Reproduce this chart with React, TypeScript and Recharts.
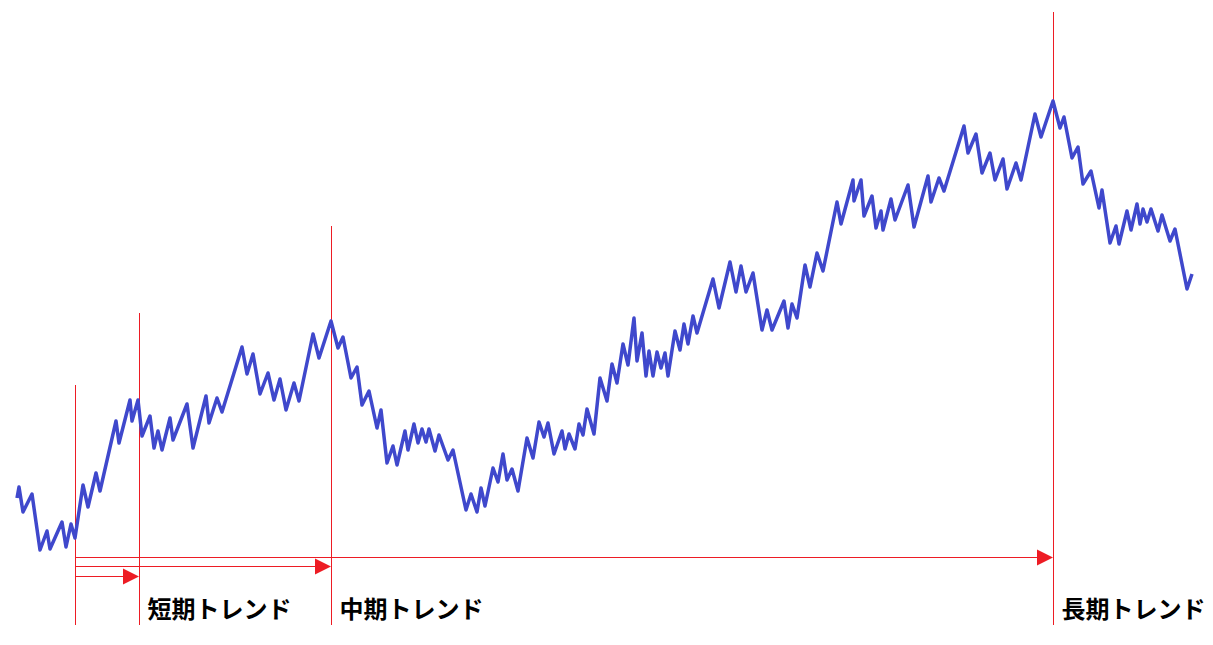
import { LineChart, Line, XAxis, YAxis, ReferenceLine } from "recharts";

const times = [
  17, 19, 23, 32, 40, 47, 50, 62, 66, 71, 75, 83, 88, 96, 100, 116, 119, 130, 132, 138,
  142, 150, 154, 158, 162, 170, 173, 187, 193, 206, 209, 217, 222, 242, 247, 253, 260, 268, 274, 280,
  286, 294, 299, 313, 319, 331, 338, 343, 351, 357, 362, 369, 377, 381, 387, 393, 397, 405, 408, 414,
  418, 422, 426, 429, 435, 439, 448, 453, 466, 471, 477, 481, 485, 493, 498, 503, 507, 512, 518, 527,
  533, 539, 544, 548, 554, 562, 565, 569, 575, 579, 583, 587, 594, 600, 607, 612, 617, 623, 628, 634,
  637, 642, 646, 649, 653, 657, 661, 665, 668, 675, 680, 684, 688, 693, 697, 713, 719, 730, 736, 741,
  746, 753, 762, 767, 772, 784, 788, 792, 797, 805, 810, 817, 823, 837, 841, 853, 854, 861, 864, 872,
  876, 881, 883, 891, 895, 908, 914, 928, 931, 939, 944, 964, 968, 976, 982, 990, 995, 1003, 1007, 1016,
  1021, 1035, 1041, 1053, 1060, 1064, 1072, 1078, 1083, 1091, 1099, 1102, 1110, 1116, 1119, 1127, 1131, 1137, 1140, 1143,
  1147, 1151, 1158, 1162, 1170, 1175, 1187, 1192,
];
const levels = [
  498, 487, 512, 494, 550, 531, 549, 522, 547, 524, 538, 485, 507, 473, 491, 421, 443, 400, 421, 400,
  436, 416, 448, 431, 450, 418, 440, 404, 448, 396, 423, 398, 412, 347, 374, 354, 394, 373, 400, 379,
  410, 383, 401, 334, 358, 321, 348, 337, 378, 367, 405, 391, 428, 410, 463, 446, 465, 431, 450, 424,
  443, 429, 442, 429, 451, 435, 460, 450, 510, 494, 512, 488, 506, 468, 482, 454, 480, 469, 491, 438,
  458, 422, 437, 423, 454, 431, 449, 434, 449, 424, 435, 409, 434, 378, 401, 364, 383, 344, 365, 318,
  361, 333, 376, 351, 376, 352, 368, 353, 376, 331, 350, 324, 344, 316, 333, 279, 308, 262, 292, 266,
  292, 273, 330, 310, 330, 301, 328, 304, 318, 265, 287, 253, 271, 202, 224, 180, 201, 180, 216, 196,
  228, 211, 230, 199, 220, 185, 227, 176, 202, 178, 191, 126, 153, 134, 173, 153, 180, 159, 189, 163,
  180, 114, 137, 101, 128, 117, 158, 147, 184, 171, 208, 190, 243, 226, 244, 211, 230, 204, 224, 209,
  222, 209, 231, 215, 241, 229, 289, 274,
];

const trendNames = ["短期トレンド", "中期トレンド", "長期トレンド"];
const trendStart = 75;
const trendEnds = [139, 331, 1053];
const trendTops = [313, 226, 12];
const startTop = 385;

const data = times.map((t, i) => ({ t, v: levels[i] }));

const RED = "#ed1c24";
const BLUE = "#3f48cc";
const BOTTOM = 625;
const arrowRows = [576, 566, 557];

const Arrow = (props: any) => {
  const { x1, y1, x2, y2 } = props;
  const y = Math.round(y2) + 0.5;
  return (
    <g>
      <line
        x1={Math.round(x1)}
        y1={y}
        x2={x2 - 14}
        y2={y}
        stroke={RED}
        strokeWidth={1}
        shapeRendering="crispEdges"
      />
      <polygon points={`${x2},${y} ${x2 - 16},${y - 8} ${x2 - 16},${y + 8}`} fill={RED} />
    </g>
  );
};

const makeMarker = (name?: string) => (props: any) => {
  const { x1, y1, y2 } = props;
  const x = Math.round(x1) + 0.5;
  return (
    <g>
      <line x1={x} y1={y1} x2={x} y2={y2} stroke={RED} strokeWidth={1} shapeRendering="crispEdges" />
      {name && (
        <text
          x={x + 8}
          y={BOTTOM - 7}
          fontSize={24}
          fontWeight="bold"
          fontFamily="'Noto Sans CJK JP', sans-serif"
          fill="#000"
        >
          {name}
        </text>
      )}
    </g>
  );
};

export default function App() {
  return (
    <div style={{ position: "absolute", left: 0, top: 0, background: "#fff" }}>
      <LineChart width={1213} height={645} data={data} margin={{ top: 0, right: 0, bottom: 0, left: 0 }}>
        <XAxis dataKey="t" type="number" domain={[0, 1213]} hide />
        <YAxis type="number" domain={[0, 645]} reversed hide />
        <ReferenceLine
          segment={[{ x: trendStart, y: startTop }, { x: trendStart, y: BOTTOM }]}
          shape={makeMarker()}
        />
        {trendEnds.map((end, i) => (
          <ReferenceLine
            key={"v" + i}
            segment={[{ x: end, y: trendTops[i] }, { x: end, y: BOTTOM }]}
            shape={makeMarker(trendNames[i])}
          />
        ))}
        {trendEnds.map((end, i) => (
          <ReferenceLine
            key={"a" + i}
            segment={[{ x: trendStart, y: arrowRows[i] }, { x: end, y: arrowRows[i] }]}
            shape={Arrow}
          />
        ))}
        <Line
          type="linear"
          dataKey="v"
          stroke={BLUE}
          strokeWidth={3.5}
          strokeLinejoin="round"
          dot={false}
          activeDot={false}
          isAnimationActive={false}
        />
      </LineChart>
    </div>
  );
}
